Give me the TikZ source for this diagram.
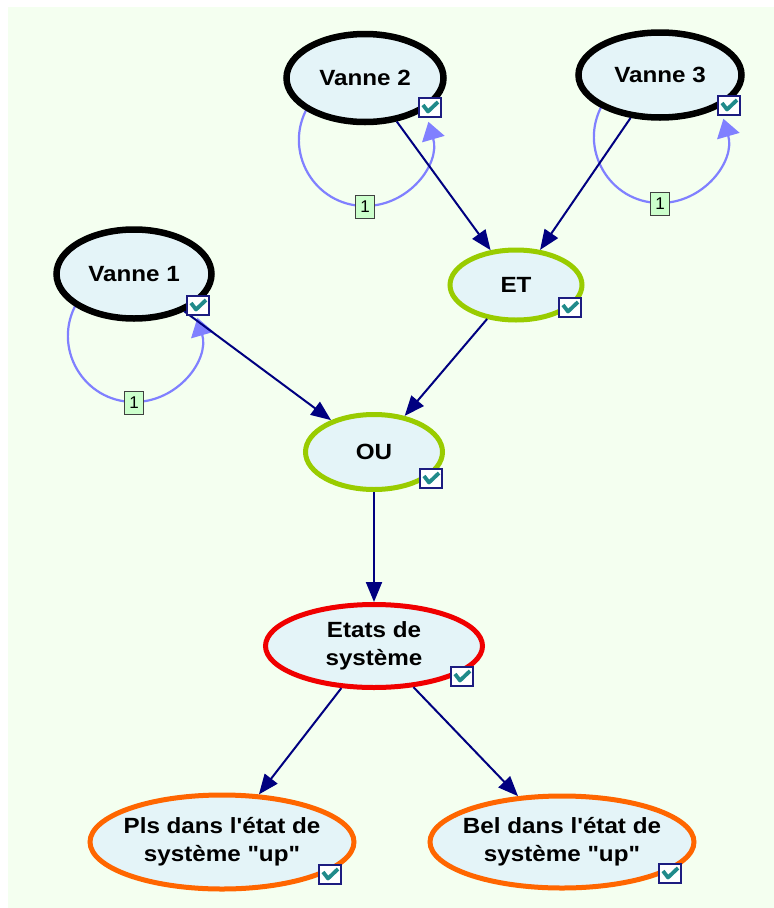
\documentclass[tikz,border=0pt]{standalone}
\usepackage{fontspec}
\newfontfamily\labelfont{Liberation Sans}[FakeStretch=1.1]
\newfontfamily\tagfont{Liberation Sans}
\usetikzlibrary{shapes.geometric,arrows.meta,backgrounds}

\definecolor{bgGreen}{HTML}{F4FFF0}
\definecolor{nodeFill}{HTML}{E4F4F8}
\definecolor{limeRim}{HTML}{99CC00}
\definecolor{redRim}{HTML}{F00000}
\definecolor{orangeRim}{HTML}{FF6600}
\definecolor{edgeNavy}{HTML}{000080}
\definecolor{loopBlue}{HTML}{8080FF}
\definecolor{tagGreen}{HTML}{CCFFCC}
\definecolor{boxNavy}{HTML}{1C1C80}
\definecolor{tickTeal}{HTML}{208A8A}

\tikzset{
  % negative inner sep: the ellipse size is set by minimum width/height only
  var/.style={ellipse, draw, fill=nodeFill, line width=5.5pt,
    inner xsep=-40pt, inner ysep=-10pt,
    align=center, font={\labelfont\bfseries\fontsize{22pt}{28pt}\selectfont}},
  chk/.style={draw=boxNavy, line width=2pt, fill=white, minimum width=22pt,
    minimum height=19pt, inner sep=0pt,
    path picture={\draw[tickTeal, line width=3.8pt, line join=round]
      ([shift={(-7pt,2pt)}]path picture bounding box.center) --
      ([shift={(-2pt,-4.5pt)}]path picture bounding box.center) --
      ([shift={(8pt,5pt)}]path picture bounding box.center);}},
  tag/.style={draw=black!75, fill=tagGreen, line width=0.8pt, minimum width=19pt,
    minimum height=23pt, inner sep=0pt, font={\tagfont\fontsize{17pt}{17pt}\selectfont}},
  link/.style={draw=edgeNavy, line width=2pt, -{Triangle[length=20pt,width=16pt]}},
  loopline/.style={draw=loopBlue, line width=2.2pt, -{Triangle[length=18pt,width=23pt]}}
}

\begin{document}
\begin{tikzpicture}[x=1pt,y=-1pt]
\useasboundingbox (0,0) rectangle (774,908);

% variables
\node[var, draw=black, line width=6.5pt, minimum width=157pt, minimum height=88pt] (v2) at (365,78) {Vanne 2};
\node[var, draw=black, line width=6.5pt, minimum width=163pt, minimum height=85pt] (v3) at (660,75) {Vanne 3};
\node[var, draw=black, line width=6.5pt, minimum width=155pt, minimum height=89pt] (v1) at (134,274) {Vanne 1};
\node[var, draw=limeRim, line width=5pt, minimum width=132pt, minimum height=70pt] (et) at (516,285) {ET};
\node[var, draw=limeRim, line width=5pt, minimum width=137pt, minimum height=75pt] (ou) at (374,452) {OU};
\node[var, draw=redRim, line width=5pt, minimum width=217pt, minimum height=83pt] (etat) at (374,646) {Etats de\\syst\`eme};
\node[var, draw=orangeRim, line width=5pt, minimum width=264pt, minimum height=94pt] (pls) at (222,842) {Pls dans l'\'etat de\\syst\`eme "up"};
\node[var, draw=orangeRim, line width=5pt, minimum width=264pt, minimum height=92pt] (bel) at (562,842) {Bel dans l'\'etat de\\syst\`eme "up"};

% canvas and self-loops behind the variables
\begin{scope}[on background layer]
  \fill[bgGreen] (8,7) rectangle (774,908);
  \foreach \n in {v1,v2,v3}{
    \draw[loopline] ([shift={(-57.2,29)}]\n.center)
      .. controls +(-25.4,44) and +(-50.8,0) .. ([shift={(0,128)}]\n.center)
      .. controls +(43.9,0) and +(12.1,42.2) .. ([shift={(63.4,43.8)}]\n.center);
  }
\end{scope}
\node[tag] (t1) at ([shift={(0,129)}]v1.center) {1};
\node[tag] (t2) at ([shift={(0,129)}]v2.center) {1};
\node[tag] (t3) at ([shift={(0,129)}]v3.center) {1};

% dependencies
\draw[link] (v2) -- (et);
\draw[link] (v3) -- (et);
\draw[link] (et) -- (ou);
\draw[link] (v1) -- (ou);
\draw[link] (ou) -- (etat);
\draw[link] (etat) -- (pls);
\draw[link] (etat) -- (bel);

% check boxes
\node[chk] (c2) at (430,107) {};
\node[chk] (c3) at (729,105) {};
\node[chk] (c1) at (198,305) {};
\node[chk] (cet) at (570,307) {};
\node[chk] (cou) at (431,478) {};
\node[chk] (cetat) at (462,676) {};
\node[chk] (cpls) at (330,874) {};
\node[chk] (cbel) at (670,873) {};
\end{tikzpicture}
\end{document}
